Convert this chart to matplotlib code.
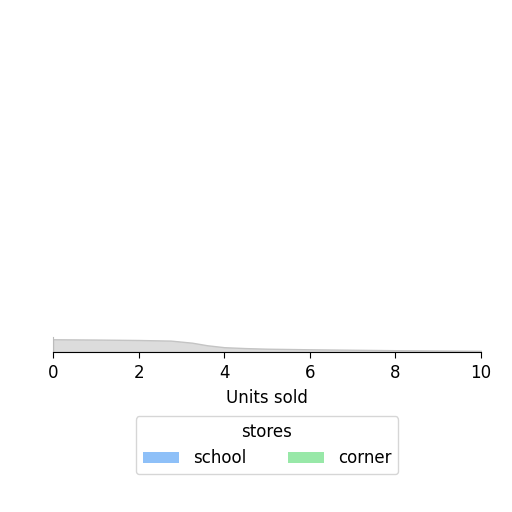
import numpy as np
import matplotlib.pyplot as plt
from matplotlib.patches import Patch

# Data
units = [0, 1, 2, 2.75, 3.25, 3.6, 4, 4.5, 5, 6, 7, 8, 9, 10]
density = [0.85, 0.83, 0.8, 0.76, 0.62, 0.45, 0.32, 0.26, 0.22, 0.18, 0.15, 0.12, 0.1, 0.08]
stores = ["school", "corner"]
store_colors = ["#8ec0f8", "#98e8a8"]
xticks = [0, 2, 4, 6, 8, 10]

fig = plt.figure(figsize=(5.12, 5.12), dpi=100)
ax = fig.add_axes([53 / 512, 1 - 352 / 512, 428 / 512, 15 / 512])

ax.fill_between(units, 0, density, color="#dcdcdc", edgecolor="#c4c4c4", linewidth=1)

ax.set_xlim(0, 10)
ax.set_ylim(0, 1)
ax.set_xticks(xticks)
ax.set_yticks([])
ax.tick_params(axis="x", labelsize=12, length=4, pad=4.5)
ax.set_xlabel("Units sold", fontsize=12, labelpad=5)
for side in ["top", "right"]:
    ax.spines[side].set_visible(False)
ax.spines["left"].set_color("#bbbbbb")

handles = [Patch(facecolor=c, label=s) for s, c in zip(stores, store_colors)]
fig.legend(handles=handles, title="stores", ncol=2, fontsize=12, title_fontsize=12,
           loc="upper center", bbox_to_anchor=(267 / 512, 1 - 408 / 512),
           handlelength=2.2, columnspacing=2.5, frameon=True)

fig.savefig("out.png", dpi=100)
